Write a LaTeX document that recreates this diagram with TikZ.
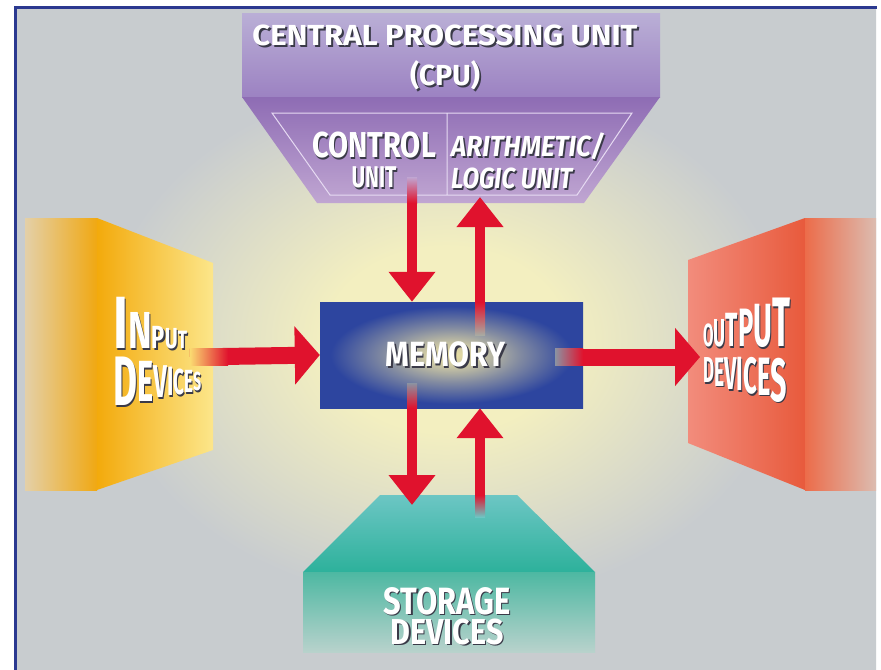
\documentclass[tikz,border=0pt]{standalone}
\usepackage{fontspec}
\newfontfamily\lblfont{Fira Sans}
\usepackage{graphicx}
\usepackage{tikz}
\usetikzlibrary{arrows.meta}
\definecolor{bggray}{HTML}{C8CCCF}
\definecolor{glowyel}{HTML}{F3EFC0}
\definecolor{edgeblue}{HTML}{2B3990}
\definecolor{cpua}{HTML}{BAAFD6}
\definecolor{cpub}{HTML}{9C82C2}
\definecolor{cpuc}{HTML}{8E6CB4}
\definecolor{cpud}{HTML}{C0A6D2}
\definecolor{cpuline}{HTML}{E6DAF2}
\definecolor{memblue}{HTML}{2D459F}
\definecolor{memyel}{HTML}{EAE0A4}
\definecolor{arrowred}{HTML}{E0122D}
\definecolor{ina}{HTML}{E4D0A8}
\definecolor{inb}{HTML}{F0A812}
\definecolor{inc}{HTML}{F3AA0C}
\definecolor{ind}{HTML}{FCE68A}
\definecolor{outa}{HTML}{F28C7C}
\definecolor{outb}{HTML}{E85A3C}
\definecolor{outc}{HTML}{EC6C4A}
\definecolor{outd}{HTML}{DCBCB0}
\definecolor{stoa}{HTML}{6CC6C4}
\definecolor{stob}{HTML}{2DB19B}
\definecolor{stoc}{HTML}{4DB8A2}
\definecolor{stod}{HTML}{B8D2CC}
\definecolor{txtshadow}{HTML}{3A3A48}
\newcommand{\shtext}[1]{\makebox[0pt][l]{\hspace{1.8bp}\raisebox{-1.8bp}{\color{txtshadow}#1}}#1}
\newcommand{\fitw}[2]{\resizebox*{#1}{\totalheight}{#2}}
\newcommand{\perB}[2]{{\fontsize{#1bp}{#1bp}\selectfont\shtext{#2}}}
\newcommand{\perM}[2]{{\fontsize{#1bp}{#1bp}\selectfont\raisebox{-.5\height}{\shtext{#2}}}}
\newcommand{\perT}[2]{{\fontsize{#1bp}{#1bp}\selectfont\raisebox{-\height}{\shtext{#2}}}}
\pgfdeclareradialshading{bgglow}{\pgfpoint{0bp}{0bp}}{color(0bp)=(glowyel); color(7bp)=(glowyel); color(20bp)=(bggray); color(50bp)=(bggray)}
\pgfdeclareradialshading{memglow}{\pgfpoint{0bp}{0bp}}{color(0bp)=(memyel); color(5bp)=(memyel!85!memblue); color(13bp)=(memyel!45!memblue); color(23bp)=(memblue); color(50bp)=(memblue)}

\begin{document}
\begin{tikzpicture}[
  lbl/.style={text=white,inner sep=0pt,align=center},
  flowv/.style={draw=arrowred,line width=10bp,-{Triangle[width=45bp,length=30bp]}},
  flowh/.style={draw=arrowred,line width=17bp,-{Triangle[width=57bp,length=25bp]}}]
\useasboundingbox (0bp,0bp) rectangle (881bp,-670bp);
\fill[white] (0bp,0bp) rectangle (881bp,-670bp);
\shade[shading=bgglow] (16bp,-9bp) rectangle (876bp,-670bp);
\draw[edgeblue,line width=3bp] (15bp,-670bp) -- (15bp,-7.5bp) -- (877bp,-7.5bp);

\shade[top color=cpua,bottom color=cpub] (242bp,-13bp) rectangle (660bp,-97bp);
\shade[top color=cpuc,bottom color=cpud] (242bp,-97bp) -- (660bp,-97bp) -- (584bp,-203bp) -- (317bp,-203bp) -- cycle;
\draw[cpuline,line width=1bp] (272bp,-113bp) -- (632bp,-113bp) -- (577bp,-195bp) -- (330bp,-195bp) -- cycle (447bp,-113bp) -- (447bp,-195bp);

\shade[left color=ina,right color=inb] (25bp,-218bp) rectangle (97bp,-490bp);
\shade[left color=inc,right color=ind] (97bp,-218bp) -- (213bp,-263bp) -- (213bp,-450bp) -- (97bp,-490bp) -- cycle;

\shade[left color=outa,right color=outb] (688bp,-260bp) -- (805bp,-218bp) -- (805bp,-490bp) -- (688bp,-443bp) -- cycle;
\shade[left color=outc,right color=outd] (805bp,-218bp) rectangle (876bp,-490bp);

\shade[top color=stoa,bottom color=stob] (380bp,-495bp) -- (517bp,-495bp) -- (595bp,-572bp) -- (303bp,-572bp) -- cycle;
\shade[top color=stoc,bottom color=stod] (303bp,-572bp) rectangle (595bp,-652bp);

\node (mem) at (451.5bp,-355bp)[shade,shading=memglow,minimum width=263bp,minimum height=106bp,lbl,font=\lblfont\bfseries\fontsize{35bp}{35bp}\selectfont] {\fitw{120bp}{\shtext{MEMORY}}\hspace*{12bp}};

\coordinate (cuport) at (412bp,-177bp);
\coordinate (aluport) at (480bp,-197bp);
\coordinate (inport) at (190bp,-357bp);
\coordinate (outport) at (700bp,-357bp);
\coordinate (stoport) at (412bp,-505bp);
\coordinate (stoup) at (480bp,-517bp);
\coordinate (memup) at (480bp,-335bp);
\coordinate (memdown) at (412bp,-383bp);
\coordinate (memright) at (555bp,-357bp);

\draw[flowv] (cuport) -- (cuport |- mem.north);
\draw[flowv] (memup) -- (aluport);
\draw[flowh] (inport) -- (mem.west);
\draw[flowh] (memright) -- (outport);
\draw[flowv] (memdown) -- (stoport);
\draw[flowv] (stoup) -- (stoup |- mem.south);

\shade[top color=cpud,bottom color=arrowred] (407bp,-177bp) rectangle (417bp,-203bp);
\shade[top color=arrowred,bottom color=memblue!35!memyel] (475bp,-302bp) rectangle (485bp,-335bp);
\shade[left color=ind!80!inc,right color=arrowred] (190bp,-348.5bp) rectangle (228bp,-365.5bp);
\shade[left color=memblue!50!memyel,right color=arrowred] (555bp,-348.5bp) rectangle (583bp,-365.5bp);
\shade[top color=memblue!50!memyel,bottom color=arrowred] (407bp,-383bp) rectangle (417bp,-408bp);
\shade[top color=arrowred,bottom color=stoa] (475bp,-495bp) rectangle (485bp,-517bp);

\node (cpu) at (445bp,-25bp)[lbl,anchor=north,font=\lblfont\bfseries\fontsize{29bp}{40bp}\selectfont] {\fitw{385bp}{\shtext{CENTRAL PROCESSING UNIT}}\\\fitw{70bp}{\shtext{(CPU)}}};
\node (cu) at (374bp,-132bp)[lbl,anchor=north,font=\lblfont\bfseries\fontsize{36bp}{30bp}\selectfont] {\fitw{124bp}{\shtext{CONTROL}}\\\fitw{45bp}{\perB{30}{UNIT}}};
\node (alu) at (451bp,-133bp)[lbl,anchor=north west,align=left,font=\lblfont\bfseries\itshape\fontsize{29bp}{32bp}\selectfont] {\fitw{153bp}{\shtext{ARITHMETIC/}}\\\fitw{121bp}{\shtext{LOGIC UNIT}}};
\node (in) at (113bp,-297bp)[lbl,anchor=north west,align=left,font=\lblfont\bfseries\fontsize{30bp}{33bp}\selectfont] {\fitw{74bp}{\perB{74}{I}\perB{52}{N}\perB{32}{P}\perB{29}{U}\perB{25}{T}}\\\fitw{88bp}{\perM{70}{D}\perM{58}{E}\perM{46}{V}\perM{41}{I}\perM{36}{C}\perM{32}{E}\perM{26}{S}}};
\node (out) at (703bp,-298bp)[lbl,anchor=north west,align=left,font=\lblfont\bfseries\fontsize{30bp}{11bp}\selectfont] {\fitw{87bp}{\perB{32}{O}\perB{39}{U}\perB{48}{T}\perB{54}{P}\perB{61}{U}\perB{70}{T}}\\\fitw{84bp}{\perT{36}{D}\perT{41}{E}\perT{46}{V}\perT{48}{I}\perT{51}{C}\perT{54}{E}\perT{61}{S}}};
\node (sto) at (447bp,-587bp)[lbl,anchor=north,font=\lblfont\bfseries\fontsize{38bp}{30bp}\selectfont] {\fitw{127bp}{\shtext{STORAGE}}\\\fitw{113bp}{\perB{36}{DEVICES}}};
\end{tikzpicture}
\end{document}
